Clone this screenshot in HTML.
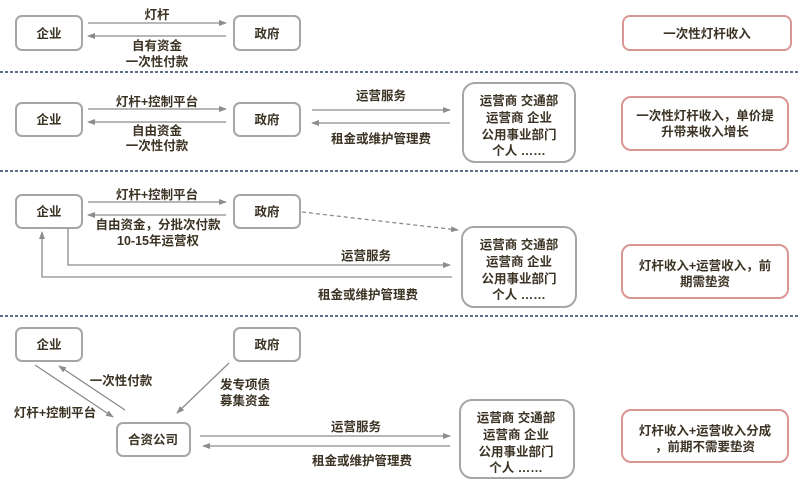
<!DOCTYPE html>
<html><head><meta charset="utf-8"><style>
html,body{margin:0;padding:0;background:#fff;width:800px;height:480px;overflow:hidden}
svg{display:block}
text{font-family:"Liberation Sans","Noto Sans CJK SC",sans-serif;font-size:12.5px;font-weight:bold;fill:#3b3324;text-anchor:middle}
.b{fill:#fff;stroke:#a6a6a6;stroke-width:2}
.r{fill:#fff;stroke:#d99694;stroke-width:2}
.l{stroke:#8c8c8c;stroke-width:1.3;fill:none}
.d{stroke:#5d6f86;stroke-width:2;stroke-dasharray:3 2;fill:none}
</style></head><body>
<svg width="800" height="480" viewBox="0 0 800 480">
<defs><marker id="a" markerWidth="8" markerHeight="8" refX="7" refY="4" orient="auto" markerUnits="userSpaceOnUse"><path d="M0,1 L8,4 L0,7 Z" fill="#8c8c8c"/></marker></defs>
<!-- dividers -->
<line class="d" x1="0" y1="72" x2="800" y2="72"/>
<line class="d" x1="0" y1="171" x2="800" y2="171"/>
<line class="d" x1="0" y1="316" x2="800" y2="316"/>

<!-- Row 1 -->
<rect class="b" x="16" y="16" width="66" height="34" rx="6"/><text x="49" y="38">企业</text>
<rect class="b" x="234" y="16" width="66" height="34" rx="6"/><text x="267" y="38">政府</text>
<line class="l" x1="88" y1="23" x2="226" y2="23" marker-end="url(#a)"/>
<line class="l" x1="226" y1="36" x2="88" y2="36" marker-end="url(#a)"/>
<text x="157" y="19">灯杆</text>
<text x="157" y="50">自有资金</text>
<text x="157" y="66">一次性付款</text>
<rect class="r" x="623" y="16" width="168" height="34" rx="7"/><text x="707" y="38">一次性灯杆收入</text>

<!-- Row 2 -->
<rect class="b" x="16" y="103" width="66" height="33" rx="6"/><text x="49" y="124">企业</text>
<rect class="b" x="234" y="103" width="66" height="33" rx="6"/><text x="267" y="124">政府</text>
<line class="l" x1="88" y1="109" x2="226" y2="109" marker-end="url(#a)"/>
<line class="l" x1="226" y1="122" x2="88" y2="122" marker-end="url(#a)"/>
<text x="157" y="106">灯杆+控制平台</text>
<text x="157" y="135">自由资金</text>
<text x="157" y="150">一次性付款</text>
<line class="l" x1="312" y1="110" x2="450" y2="110" marker-end="url(#a)"/>
<line class="l" x1="450" y1="123" x2="312" y2="123" marker-end="url(#a)"/>
<text x="381" y="100">运营服务</text>
<text x="381" y="143">租金或维护管理费</text>
<rect class="b" x="463" y="83" width="112" height="79" rx="12"/>
<text x="519" y="105">运营商 交通部</text>
<text x="519" y="122">运营商 企业</text>
<text x="519" y="139">公用事业部门</text>
<text x="519" y="155">个人 ……</text>
<rect class="r" x="622" y="97" width="166" height="53" rx="9"/>
<text x="705" y="120">一次性灯杆收入，单价提</text>
<text x="705" y="136">升带来收入增长</text>

<!-- Row 3 -->
<rect class="b" x="16" y="195" width="66" height="33" rx="6"/><text x="49" y="216">企业</text>
<rect class="b" x="234" y="195" width="66" height="33" rx="6"/><text x="267" y="216">政府</text>
<line class="l" x1="88" y1="202" x2="226" y2="202" marker-end="url(#a)"/>
<line class="l" x1="226" y1="215" x2="88" y2="215" marker-end="url(#a)"/>
<text x="157" y="199">灯杆+控制平台</text>
<text x="158" y="229">自由资金，分批次付款</text>
<text x="158" y="245">10-15年运营权</text>
<line class="l" x1="302" y1="212" x2="458" y2="230" stroke-dasharray="4 3" marker-end="url(#a)"/>
<polyline class="l" points="68,228 68,265 450,265" marker-end="url(#a)"/>
<polyline class="l" points="452,277 42,277 42,232" marker-end="url(#a)"/>
<text x="366" y="260">运营服务</text>
<text x="368" y="299">租金或维护管理费</text>
<rect class="b" x="462" y="227" width="114" height="80" rx="12"/>
<text x="519" y="249">运营商 交通部</text>
<text x="519" y="266">运营商 企业</text>
<text x="519" y="283">公用事业部门</text>
<text x="519" y="299">个人 ……</text>
<rect class="r" x="622" y="245" width="166" height="53" rx="9"/>
<text x="705" y="270">灯杆收入+运营收入，前</text>
<text x="705" y="286">期需垫资</text>

<!-- Row 4 -->
<rect class="b" x="16" y="328" width="66" height="33" rx="6"/><text x="49" y="349">企业</text>
<rect class="b" x="234" y="328" width="66" height="33" rx="6"/><text x="267" y="349">政府</text>
<rect class="b" x="117" y="423" width="73" height="33" rx="6"/><text x="153" y="444">合资公司</text>
<line class="l" x1="35" y1="365" x2="113" y2="417" marker-end="url(#a)"/>
<line class="l" x1="125" y1="410" x2="59" y2="366" marker-end="url(#a)"/>
<line class="l" x1="229" y1="363" x2="177" y2="413" marker-end="url(#a)"/>
<text x="121" y="385">一次性付款</text>
<text x="55" y="417">灯杆+控制平台</text>
<text x="245" y="389">发专项债</text>
<text x="245" y="405">募集资金</text>
<line class="l" x1="200" y1="436" x2="450" y2="436" marker-end="url(#a)"/>
<line class="l" x1="450" y1="446" x2="203" y2="446" marker-end="url(#a)"/>
<text x="356" y="431">运营服务</text>
<text x="362" y="465">租金或维护管理费</text>
<rect class="b" x="460" y="400" width="114" height="78" rx="12"/>
<text x="516" y="422">运营商 交通部</text>
<text x="516" y="439">运营商 企业</text>
<text x="516" y="456">公用事业部门</text>
<text x="516" y="472">个人 ……</text>
<rect class="r" x="622" y="410" width="166" height="52" rx="9"/>
<text x="705" y="435">灯杆收入+运营收入分成</text>
<text x="705" y="451">，前期不需要垫资</text>
</svg>
</body></html>
